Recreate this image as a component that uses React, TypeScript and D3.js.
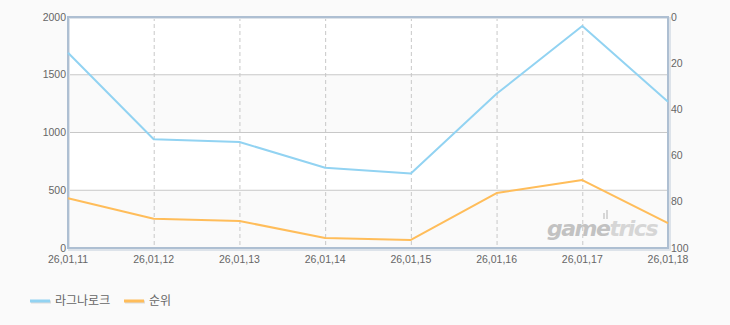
import React from "react";
import * as d3 from "d3";

const categories = ["26,01,11", "26,01,12", "26,01,13", "26,01,14", "26,01,15", "26,01,16", "26,01,17", "26,01,18"];
const seriesA = [1690, 942, 918, 695, 645, 1335, 1922, 1266];
const seriesB = [78.5, 87.3, 88.3, 95.7, 96.5, 76.2, 70.6, 89.2];
const leftTicks = [0, 500, 1000, 1500, 2000];
const rightTicks = [0, 20, 40, 60, 80, 100];
const seriesNames = ["라그나로크", "순위"];

const W = 730, H = 325;
const L = 68, R = 668, T = 17, B = 248;
const FONT = "'Liberation Sans', 'Noto Sans CJK KR', sans-serif";

export default function App() {
  const x = d3.scalePoint<string>().domain(categories).range([L, R]);
  const yL = d3.scaleLinear().domain([0, 2000]).range([B, T]);
  const yR = d3.scaleLinear().domain([0, 100]).range([T, B]);
  const lineA = d3.line<number>().x((_, i) => x(categories[i])!).y((d) => yL(d));
  const lineB = d3.line<number>().x((_, i) => x(categories[i])!).y((d) => yR(d));
  const bands = [[2000, 1500, "#ffffff"], [1500, 1000, "#fafafa"], [1000, 500, "#ffffff"], [500, 0, "#fafafa"]] as const;
  return (
    <svg width={W} height={H} style={{ position: "absolute", left: 0, top: 0, background: "#fafafa" }}>
      <rect x={0} y={0} width={W} height={H} fill="#fafafa" />
      {bands.map(([a, b, c], i) => (
        <rect key={i} x={L} y={yL(a)} width={R - L} height={yL(b) - yL(a)} fill={c} />
      ))}
      {leftTicks.slice(1, -1).map((t) => (
        <line key={t} x1={L} x2={R} y1={yL(t)} y2={yL(t)} stroke="#c8c8c8" strokeWidth={1} />
      ))}
      {categories.slice(1, -1).map((c) => (
        <line key={c} x1={x(c)! + 0.5} x2={x(c)! + 0.5} y1={T} y2={B} stroke="#c8c8c8" strokeDasharray="4,3" strokeWidth={1} />
      ))}
      <g>
        <rect x={603} y={213} width={2} height={6} fill="#d6d6d6" />
        <rect x={606} y={210} width={2} height={9} fill="#d6d6d6" />
        <text x={657} y={236} textAnchor="end" fontFamily="'DejaVu Sans', sans-serif" fontStyle="italic" fontWeight="bold" fontSize={22} letterSpacing={-1.5}>
          <tspan fill="#c2c2c2">game</tspan><tspan fill="#d6d6d6">trics</tspan>
        </text>
      </g>
      {/* frame shadow */}
      <rect x={L + 1} y={T + 1} width={R - L + 1} height={B - T + 1} fill="none" stroke="#dde3ea" strokeWidth={2} />
      <rect x={L} y={T} width={R - L} height={B - T} fill="none" stroke="#aebfd2" strokeWidth={2} />
      <path d={lineA(seriesA)!} fill="none" stroke="#92d3f2" strokeWidth={2} strokeLinejoin="round" />
      <path d={lineB(seriesB)!} fill="none" stroke="#ffbd5a" strokeWidth={2} strokeLinejoin="round" />
      {leftTicks.map((t) => (
        <text key={t} x={L - 2} y={yL(t) + 3.5} textAnchor="end" fontFamily={FONT} fontSize={10.5} fill="#666">{t}</text>
      ))}
      {rightTicks.map((t) => (
        <text key={t} x={R + 3} y={yR(t) + 3.5} textAnchor="start" fontFamily={FONT} fontSize={10.5} fill="#666">{t}</text>
      ))}
      {categories.map((c) => (
        <text key={c} x={x(c)!} y={263} textAnchor="middle" fontFamily={FONT} fontSize={10.5} fill="#666">{c}</text>
      ))}
      <g>
        <line x1={31} x2={51} y1={302} y2={302} stroke="#dcdcdc" strokeWidth={3} />
        <line x1={30} x2={50} y1={301} y2={301} stroke="#92d3f2" strokeWidth={3} />
        <text x={55} y={305} fontFamily={FONT} fontSize={12} fill="#666">{seriesNames[0]}</text>
        <line x1={125} x2={145} y1={302} y2={302} stroke="#dcdcdc" strokeWidth={3} />
        <line x1={124} x2={144} y1={301} y2={301} stroke="#ffbd5a" strokeWidth={3} />
        <text x={149} y={305} fontFamily={FONT} fontSize={12} fill="#666">{seriesNames[1]}</text>
      </g>
    </svg>
  );
}
